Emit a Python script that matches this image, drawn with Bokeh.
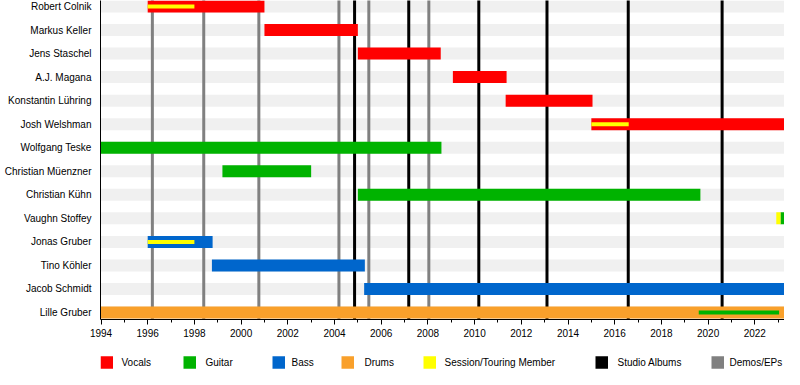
from bokeh.plotting import figure
from bokeh.layouts import column
from bokeh.models import Range1d, FixedTicker, ColumnDataSource
from bokeh.core.properties import value
from bokeh.embed import file_html
from bokeh.resources import INLINE

# ---------------- data ----------------
members = ["Robert Colnik", "Markus Keller", "Jens Staschel", "A.J. Magana",
           "Konstantin Lühring", "Josh Welshman", "Wolfgang Teske",
           "Christian Müenzner", "Christian Kühn", "Vaughn Stoffey",
           "Jonas Gruber", "Tino Köhler", "Jacob Schmidt", "Lille Gruber"]

END = 2025.0  # still active

vocals_member = ["Robert Colnik", "Markus Keller", "Jens Staschel", "A.J. Magana",
                 "Konstantin Lühring", "Josh Welshman"]
vocals_start = [1996.0, 2001.0, 2005.0, 2009.07, 2011.33, 2015.0]
vocals_end = [2001.0, 2005.0, 2008.55, 2011.37, 2015.05, END]

guitar_member = ["Wolfgang Teske", "Christian Müenzner", "Christian Kühn", "Vaughn Stoffey"]
guitar_start = [1994.0, 1999.2, 2005.0, 2023.1]
guitar_end = [2008.58, 2003.0, 2019.67, END]

bass_member = ["Jonas Gruber", "Tino Köhler", "Jacob Schmidt"]
bass_start = [1996.0, 1998.75, 2005.27]
bass_end = [1998.78, 2005.3, END]

drums_member = ["Lille Gruber"]
drums_start = [1994.0]
drums_end = [END]

session_member = ["Vaughn Stoffey"]
session_start = [2022.92]
session_end = [2023.1]

# thin overlays (secondary role)
thin_session_member = ["Robert Colnik", "Josh Welshman", "Jonas Gruber"]
thin_session_start = [1996.0, 2015.0, 1996.0]
thin_session_end = [1998.0, 2016.6, 1998.0]

thin_guitar_member = ["Lille Gruber"]
thin_guitar_start = [2019.6]
thin_guitar_end = [2023.04]

studio_albums = [2004.86, 2007.18, 2010.18, 2013.1, 2016.58, 2020.6]
demos_eps = [1996.2, 1998.4, 2000.76, 2004.19, 2005.47, 2008.04]

year_ticks = list(range(1994, 2026, 2))
minor_year_ticks = list(range(1994, 2026))

legend_labels = ["Vocals", "Guitar", "Bass", "Drums", "Session/Touring Member",
                 "Studio Albums", "Demos/EPs"]

# ---------------- styling ----------------
RED = "#ff0000"
GREEN = "#00b300"
BLUE = "#0066cc"
ORANGE = "#f9a02b"
YELLOW = "#ffff00"
BLACK = "#000000"
GRAY = "#808080"
STRIPE = "#f0f0f0"
FONT = "Liberation Sans"
legend_colors = [RED, GREEN, BLUE, ORANGE, YELLOW, BLACK, GRAY]

W = 784
PX_PER_YEAR = 23.35
LEFT = 100
FRAME_W = W - LEFT
FRAME_H = 319
MAIN_H = 345
LEG_H = 24
ROW_PX = 23.54
idx = {n: i for i, n in enumerate(members)}

BAR_H = 12 / ROW_PX
THIN_H = 4 / ROW_PX

x0 = 1994 - 0.5 / PX_PER_YEAR
p = figure(width=W, height=MAIN_H, output_backend="svg", toolbar_location=None,
           x_range=Range1d(x0, x0 + FRAME_W / PX_PER_YEAR),
           y_range=Range1d(13 + 7 / ROW_PX, -6 / ROW_PX),
           min_border_left=LEFT, min_border_right=0, min_border_top=0,
           min_border_bottom=MAIN_H - FRAME_H)
p.outline_line_color = None
p.xgrid.visible = False
p.ygrid.visible = False
p.background_fill_color = "white"
p.border_fill_color = "white"

# stripes
p.hbar(y=list(range(len(members))), left=1990, right=2030, height=BAR_H,
       fill_color=STRIPE, line_color=None)

# event lines
def vlines(xs, color):
    return p.vbar(x=xs, width=3 / PX_PER_YEAR, bottom=-2, top=15,
                  fill_color=color, line_color=None)

vlines(demos_eps, GRAY)
vlines(studio_albums, BLACK)

def bars(mem, st, en, color, h):
    src = ColumnDataSource(dict(y=[idx[m] for m in mem], left=st, right=en))
    return p.hbar(y="y", left="left", right="right", height=h, source=src,
                  fill_color=color, line_color=None)

bars(vocals_member, vocals_start, vocals_end, RED, BAR_H)
bars(guitar_member, guitar_start, guitar_end, GREEN, BAR_H)
bars(bass_member, bass_start, bass_end, BLUE, BAR_H)
bars(drums_member, drums_start, drums_end, ORANGE, BAR_H)
bars(session_member, session_start, session_end, YELLOW, BAR_H)
bars(thin_session_member, thin_session_start, thin_session_end, YELLOW, THIN_H)
bars(thin_guitar_member, thin_guitar_start, thin_guitar_end, GREEN, THIN_H)

# axes
xa = p.xaxis[0]
xa.ticker = FixedTicker(ticks=year_ticks, minor_ticks=minor_year_ticks)
xa.major_tick_in = 0
xa.major_tick_out = 5
xa.minor_tick_in = 0
xa.minor_tick_out = 3
xa.axis_line_color = BLACK
xa.major_tick_line_color = BLACK
xa.minor_tick_line_color = BLACK
xa.major_label_text_font = FONT
xa.major_label_text_font_size = "10px"
xa.major_label_text_color = BLACK
xa.major_label_standoff = 4

ya = p.yaxis[0]
ya.ticker = FixedTicker(ticks=list(range(len(members))), minor_ticks=[])
ya.major_label_overrides = {i: n for i, n in enumerate(members)}
ya.major_tick_line_color = None
ya.minor_tick_line_color = None
ya.major_tick_in = 0
ya.major_tick_out = 0
ya.axis_line_color = BLACK
ya.major_label_text_font = FONT
ya.major_label_text_font_size = "10px"
ya.major_label_text_color = BLACK
ya.major_label_standoff = 9

# ---------------- legend strip ----------------
# (the column layout aligns this frame with the main frame, so its x range
#  is expressed in page pixels from LEFT to W)
legend_box_left = [100, 183, 272, 341, 423, 595, 711]
legend_text_left = [121, 205, 291, 364, 444, 617, 729]
BOX = 12.5
LEG_Y = 17

lg = figure(width=W, height=LEG_H, output_backend="svg", toolbar_location=None,
            x_range=Range1d(LEFT, W), y_range=Range1d(LEG_H, 0),
            x_axis_type=None, y_axis_type=None,
            min_border_left=LEFT, min_border_right=0, min_border_top=0,
            min_border_bottom=0)
lg.outline_line_color = None
lg.xgrid.visible = False
lg.ygrid.visible = False
lg.rect(x=[b + BOX / 2 for b in legend_box_left], y=LEG_Y, width=BOX, height=BOX,
        fill_color=legend_colors, line_color=None)
lg.text(x=legend_text_left, y=LEG_Y, text=legend_labels,
        text_font=value(FONT), text_font_size="10px", text_color=BLACK,
        text_baseline="middle", text_align="left")

layout = column(p, lg, spacing=0)
open("out.html", "w").write(file_html(layout, INLINE))
